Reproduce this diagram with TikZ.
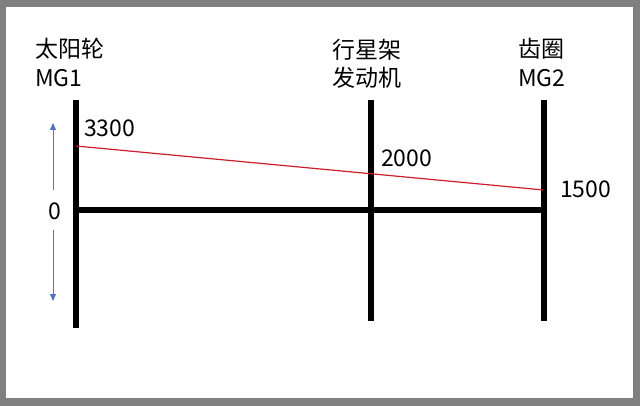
\documentclass[tikz,border=0pt]{standalone}
\usepackage{fontspec}
\setmainfont{Noto Sans CJK SC}
\usepackage{xcolor}
\usetikzlibrary{arrows.meta,positioning}

\definecolor{framegray}{RGB}{128,128,128}
\definecolor{speedred}{RGB}{205,30,40}
\definecolor{dirblue}{RGB}{80,115,195}

\begin{document}
\begin{tikzpicture}[
  x=1pt, y=-1pt,
  shaft/.style={line width=6pt, black},
  speed/.style={line width=1.2pt, speedred},
  dir/.style={line width=0.9pt, dirblue, -{Triangle[length=7pt,width=6pt]}},
  lbl/.style={inner sep=0pt, anchor=base west, font=\fontsize{23}{27}\selectfont}
]

% frame
\fill[framegray] (0,0) rectangle (640,406);
\fill[white] (6,7) rectangle (633,398);
\useasboundingbox (0,0) rectangle (640,406);

% shafts
\coordinate (sunTop) at (76,100);
\coordinate (sunBot) at (76,328);
\coordinate (carTop) at (371,100);
\coordinate (carBot) at (371,321);
\coordinate (ringTop) at (543.5,100);
\coordinate (ringBot) at (543.5,321);
\coordinate (sunZero) at (76,210);
\coordinate (ringZero) at (543.5,210);

\draw[shaft] (sunTop) -- (sunBot);
\draw[shaft] (carTop) -- (carBot);
\draw[shaft] (ringTop) -- (ringBot);
\draw[shaft] (sunZero) -- (ringZero);

% speed line
\coordinate (sunSpeed) at (76,146);
\coordinate (ringSpeed) at (543.5,190);
\draw[speed] (sunSpeed) -- (ringSpeed);

% direction arrows
\coordinate (upFrom) at (53,190);
\coordinate (upTo) at (53,123);
\coordinate (downFrom) at (53,230);
\coordinate (downTo) at (53,301);
\draw[dir] (upFrom) -- (upTo);
\draw[dir] (downFrom) -- (downTo);

% labels
\node[lbl] (sunName) at (35,58) {太阳轮};
\node[lbl] (sunMG) at (35,87) {MG1};
\node[lbl] (carName) at (332,59) {行星架};
\node[lbl] (carEng) at (332,87) {发动机};
\node[lbl] (ringName) at (518,58) {齿圈};
\node[lbl] (ringMG) at (518,87) {MG2};

\node[lbl] (sunVal) at (84,137) {3300};
\node[lbl] (carVal) at (381,167) {2000};
\node[lbl] (ringVal) at (560,198) {1500};
\node[lbl] (zeroVal) at (48,220) {0};

\end{tikzpicture}
\end{document}
